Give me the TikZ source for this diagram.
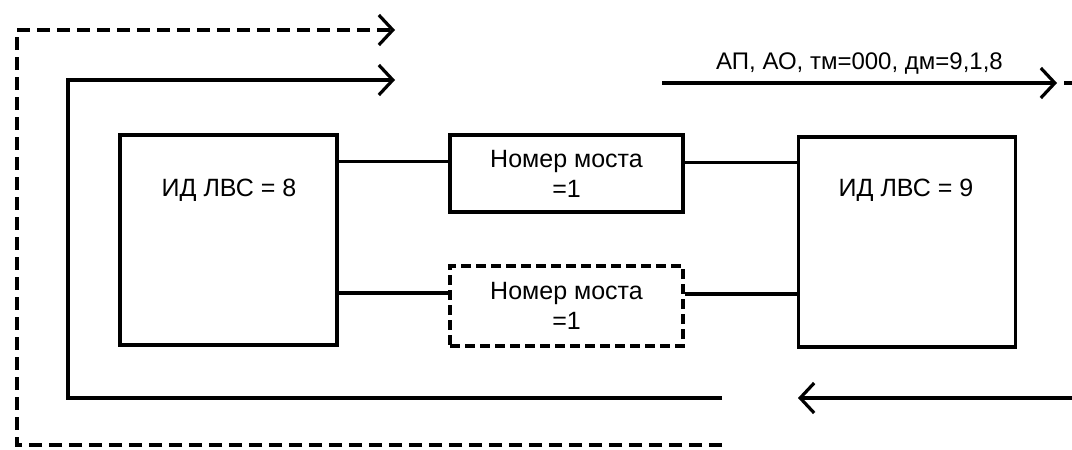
\documentclass[tikz,border=0pt]{standalone}
\usepackage{fontspec}
\setmainfont{Liberation Sans}
\usepackage{tikz}
\usetikzlibrary{arrows.meta,positioning,calc}

\begin{document}
\begin{tikzpicture}[x=1pt,y=-1pt,
      lanbox/.style={draw,line width=3.2pt,minimum width=217pt,minimum height=210pt,inner sep=0pt},
      bridgebox/.style={draw,line width=3.2pt,minimum width=233pt,minimum height=77pt,align=center,
        font=\fontsize{25}{30}\selectfont},
      wire/.style={draw,line width=3.2pt},
      loopline/.style={draw,line width=3.2pt,line cap=butt},
      gone/.style={dash pattern=on 13pt off 7pt},
      >={Straight Barb[length=14pt,width=30pt]}]
    \useasboundingbox (0,0) rectangle (1072,450);
    % LANs and bridges
    \node[lanbox] (lan8) at (228.5,240) {};
    \node[lanbox] (lan9) at (907,242) {};
    \node[font=\fontsize{25}{30}\selectfont] (lan8txt) at (229,190) {ИД ЛВС = 8};
    \node[font=\fontsize{25}{30}\selectfont] (lan9txt) at (906,190) {ИД ЛВС = 9};
    \node[bridgebox] (bridge1) at (566.5,173.5) {Номер моста\\=1};
    \node[bridgebox,dash pattern=on 10pt off 5pt,minimum height=80pt] (bridge2) at (566.5,306) {Номер моста\\=1};
    \coordinate (b1w) at ([yshift=12pt]bridge1.west);
    \coordinate (b1e) at ([yshift=11pt]bridge1.east);
    \coordinate (b2w) at ([yshift=13pt]bridge2.west);
    \coordinate (b2e) at ([yshift=12pt]bridge2.east);
    \draw[wire] (b1w -| lan8.east) -- (b1w);
    \draw[wire] (b1e) -- (b1e -| lan9.west);
    \draw[wire] (b2w -| lan8.east) -- (b2w);
    \draw[wire] (b2e) -- (b2e -| lan9.west);
    % frame paths round the bridges
    \coordinate (dend) at (722,445);
    \coordinate (dtip) at (395,30);
    \coordinate (send) at (722,398);
    \coordinate (stip) at (395,80);
    \draw[loopline,gone,->] (dend) -| (17,30) -- (dtip);
    \draw[loopline,->] (send) -| (68,80) -- (stip);
    % frame going out and coming back
    \coordinate (outA) at (662,83);
    \coordinate (outB) at (1057,83);
    \coordinate (outC) at (1064,83);
    \coordinate (inA) at (1072,398);
    \coordinate (inB) at (798,398);
    \draw[loopline,->] (outA) -- (outB)
      node[midway,above=4pt,font=\fontsize{24}{28}\selectfont] (frame) {АП, АО, тм=000, дм=9,1,8};
    \draw[loopline] (outC) -- (1072,83);
    \draw[loopline,->] (inA) -- (inB);
\end{tikzpicture}
\end{document}
